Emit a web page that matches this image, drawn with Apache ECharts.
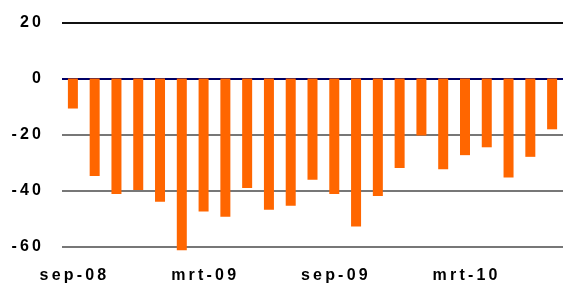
<!DOCTYPE html>
<html>
<head>
<meta charset="utf-8">
<script src="https://cdn.jsdelivr.net/npm/echarts@6/dist/echarts.min.js"></script>
<style>html,body{margin:0;padding:0;background:#fff;}#c{width:563px;height:284px;}</style>
</head>
<body>
<div id="c"></div>
<script>
const categories = ['sep-08','okt-08','nov-08','dec-08','jan-09','feb-09','mrt-09','apr-09','mei-09','jun-09','jul-09','aug-09','sep-09','okt-09','nov-09','dec-09','jan-10','feb-10','mrt-10','apr-10','mei-10','jun-10','jul-10'];
const values = [-10.7,-34.7,-41.1,-39.7,-43.9,-61.2,-47.4,-49.2,-39.0,-46.7,-45.3,-36.1,-41.1,-52.7,-41.8,-31.9,-20.3,-32.3,-27.3,-24.5,-35.3,-27.9,-18.1];
const yTicks = [-60,-40,-20,0,20];
const shownLabels = ['sep-08','mrt-09','sep-09','mrt-10'];

function spaced(s){ return String(s).split('').join('\u2009'); }

const chart = echarts.init(document.getElementById('c'), null, {renderer:'canvas'});
chart.setOption({
  animation:false,
  grid:{left:62, right:-4, top:22.3, bottom:34.7, containLabel:false},
  xAxis:{
    type:'category', data:categories,
    axisLine:{show:false}, axisTick:{show:false},
    axisLabel:{
      interval:0, margin:21,
      fontFamily:'Liberation Sans, Arial, sans-serif', fontWeight:'bold', fontSize:16, color:'#000',
      formatter:(v)=> shownLabels.includes(v) ? spaced(v) : ''
    },
    splitLine:{show:false}
  },
  yAxis:{
    type:'value', min:yTicks[0], max:yTicks[yTicks.length-1], interval:20,
    axisLine:{show:false}, axisTick:{show:false},
    axisLabel:{
      margin:21,
      fontFamily:'Liberation Sans, Arial, sans-serif', fontWeight:'bold', fontSize:16, color:'#000',
      formatter:(v)=> spaced(v)
    },
    splitLine:{show:true, lineStyle:{color:['#777777','#777777','#777777','#000066','#111111'], width:[2]}}
  },
  series:[{
    type:'bar', data:values, barWidth:10, clip:false,
    itemStyle:{color:'#ff6600'}
  }]
});
</script>
</body>
</html>
